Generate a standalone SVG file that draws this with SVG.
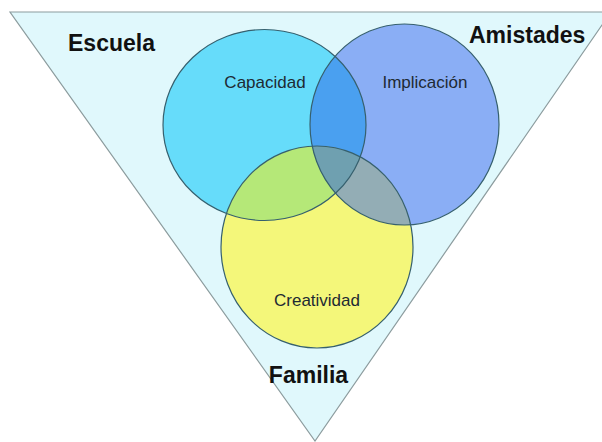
<svg xmlns="http://www.w3.org/2000/svg" width="602" height="442" viewBox="0 0 602 442">
<style>
.big{font-family:"Liberation Sans",Arial,sans-serif;font-size:23px;font-weight:bold;fill:#111}
.lbl{font-family:"Liberation Sans",Arial,sans-serif;font-size:17px;fill:#1e2a33;text-anchor:middle}
.ol{fill:none;stroke:#36606e;stroke-width:1.2}
</style>
<defs>
<clipPath id="cC"><ellipse cx="264.5" cy="125" rx="101.5" ry="95.5"/></clipPath>
<clipPath id="cI"><ellipse cx="404.5" cy="124.5" rx="94.5" ry="100.5"/></clipPath>
</defs>
<rect width="602" height="442" fill="#ffffff"/>
<g id="triangle">
<polygon points="10,12 611,12 315,441" fill="#e0f8fc" stroke="#8c9c9e" stroke-width="1.2"/>
</g>
<g id="capacidad">
<ellipse cx="264.5" cy="125" rx="101.5" ry="95.5" fill="#66dcfa"/>
</g>
<g id="implicacion">
<ellipse cx="404.5" cy="124.5" rx="94.5" ry="100.5" fill="#8aaef5"/>
<ellipse cx="404.5" cy="124.5" rx="94.5" ry="100.5" fill="#4aa0f0" clip-path="url(#cC)"/>
</g>
<g id="creatividad">
<ellipse cx="317" cy="247" rx="96" ry="101" fill="#f4f77a"/>
<ellipse cx="317" cy="247" rx="96" ry="101" fill="#b5e878" clip-path="url(#cC)"/>
<ellipse cx="317" cy="247" rx="96" ry="101" fill="#93adb5" clip-path="url(#cI)"/>
<g clip-path="url(#cI)"><ellipse cx="317" cy="247" rx="96" ry="101" fill="#6fa0b0" clip-path="url(#cC)"/></g>
</g>
<g id="outlines">
<ellipse class="ol" cx="264.5" cy="125" rx="101.5" ry="95.5"/>
<ellipse class="ol" cx="404.5" cy="124.5" rx="94.5" ry="100.5"/>
<ellipse class="ol" cx="317" cy="247" rx="96" ry="101"/>
</g>
<g id="labels">
<text class="lbl" x="265" y="88">Capacidad</text>
<text class="lbl" x="425" y="88">Implicación</text>
<text class="lbl" x="317" y="306">Creatividad</text>
</g>
<g id="contexts">
<text class="big" x="68" y="51">Escuela</text>
<text class="big" x="469" y="43">Amistades</text>
<text class="big" x="308.5" y="383" text-anchor="middle">Familia</text>
</g>
</svg>
